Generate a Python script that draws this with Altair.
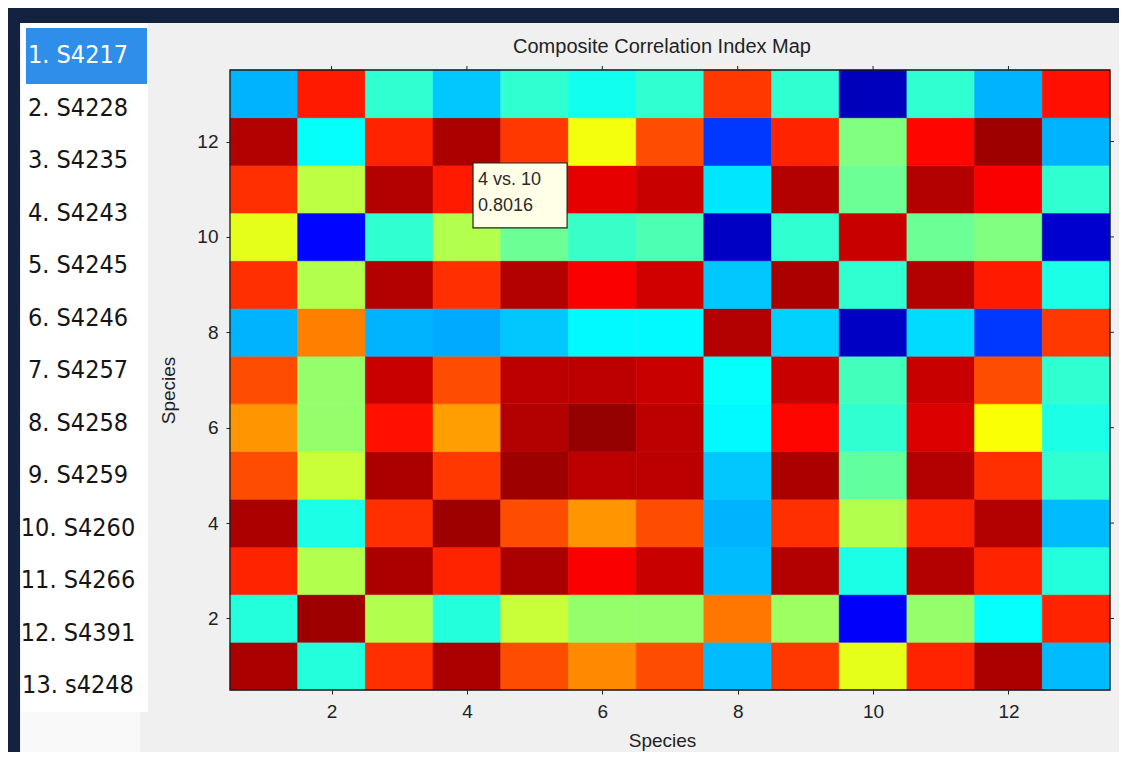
import altair as alt
import pandas as pd

# ---------------- data ----------------
species = ["S4217", "S4228", "S4235", "S4243", "S4245", "S4246", "S4257",
           "S4258", "S4259", "S4260", "S4266", "S4391", "s4248"]

# composite correlation index, row k = species k on the y axis, columns = species 1..13 on x
row_1 = [0.982, 0.740, 0.925, 0.982, 0.912, 0.886, 0.912, 0.696, 0.921, 0.824, 0.930, 0.982, 0.696]
row_2 = [0.740, 0.987, 0.802, 0.740, 0.811, 0.789, 0.789, 0.894, 0.793, 0.613, 0.789, 0.727, 0.930]
row_3 = [0.930, 0.802, 0.982, 0.930, 0.982, 0.947, 0.969, 0.696, 0.978, 0.736, 0.978, 0.930, 0.740]
row_4 = [0.982, 0.736, 0.925, 0.987, 0.912, 0.881, 0.912, 0.692, 0.925, 0.802, 0.930, 0.978, 0.696]
row_5 = [0.912, 0.811, 0.982, 0.921, 0.987, 0.974, 0.974, 0.701, 0.982, 0.767, 0.978, 0.925, 0.745]
row_6 = [0.881, 0.789, 0.938, 0.877, 0.978, 0.991, 0.974, 0.723, 0.943, 0.745, 0.960, 0.833, 0.736]
row_7 = [0.912, 0.789, 0.969, 0.912, 0.974, 0.974, 0.969, 0.727, 0.969, 0.754, 0.969, 0.912, 0.745]
row_8 = [0.692, 0.890, 0.692, 0.688, 0.701, 0.723, 0.723, 0.978, 0.705, 0.586, 0.710, 0.639, 0.921]
row_9 = [0.925, 0.802, 0.978, 0.925, 0.978, 0.947, 0.965, 0.701, 0.982, 0.745, 0.978, 0.934, 0.736]
row_10 = [0.824, 0.617, 0.745, 0.8016, 0.771, 0.749, 0.758, 0.586, 0.745, 0.969, 0.771, 0.780, 0.591]
row_11 = [0.925, 0.806, 0.978, 0.934, 0.978, 0.956, 0.969, 0.714, 0.978, 0.771, 0.978, 0.947, 0.745]
row_12 = [0.978, 0.727, 0.930, 0.982, 0.921, 0.830, 0.912, 0.639, 0.930, 0.780, 0.943, 0.987, 0.692]
row_13 = [0.692, 0.934, 0.745, 0.701, 0.745, 0.732, 0.745, 0.921, 0.745, 0.582, 0.745, 0.692, 0.938]
rows = [row_1, row_2, row_3, row_4, row_5, row_6, row_7, row_8, row_9, row_10, row_11, row_12, row_13]

tick_values = [2, 4, 6, 8, 10, 12]
selected_species = 1
tip_col, tip_row = 4, 10          # data tip "4 vs. 10"
chart_title = "Composite Correlation Index Map"

# ---------------- style ----------------
W, H = 880, 620
NAVY = "#13233F"
PANEL = "#F0F0F0"
INK = "#222222"
FONT = "Liberation Sans"
LIST_FONT = "Liberation Sans Narrow, DejaVu Sans Condensed, sans-serif"
jet = ["#00008F", "#0000FF", "#0080FF", "#00FFFF", "#80FF80",
       "#FFFF00", "#FF8000", "#FF0000", "#800000"]
cmin, cmax = 0.56, 1.0
stops = [cmin + (cmax - cmin) * k / (len(jet) - 1) for k in range(len(jet))]
jet_scale = alt.Scale(domain=stops, range=jet, interpolate="rgb")

cells = pd.DataFrame([
    {"col": c + 1, "row": r + 1, "value": rows[r][c]}
    for r in range(len(rows)) for c in range(len(rows[r]))
])
n = len(species)
xscale = alt.Scale(domain=[0.5, n + 0.5], nice=False, zero=False)
yscale = alt.Scale(domain=[0.5, n + 0.5], nice=False, zero=False)

one = alt.Data(values=[{}])

# background panels (decoration)
panel = alt.Chart(one).mark_rect(color=PANEL).encode(
    x=alt.value(-210), x2=alt.value(W + 20), y=alt.value(-47), y2=alt.value(H + 80))
list_bg = alt.Chart(one).mark_rect(color="#FFFFFF").encode(
    x=alt.value(-209), x2=alt.value(-82), y=alt.value(-47), y2=alt.value(H + 22))
list_bg2 = alt.Chart(one).mark_rect(color="#F9F9F9").encode(
    x=alt.value(-209), x2=alt.value(-90), y=alt.value(H + 22), y2=alt.value(H + 80))
highlight = alt.Chart(one).mark_rect(color="#2E8EEA").encode(
    x=alt.value(-204), x2=alt.value(-83), y=alt.value(-42), y2=alt.value(14))

title_df = pd.DataFrame({"title": [chart_title]})
title_text = alt.Chart(title_df).mark_text(
    font=FONT, fontSize=20, color=INK, align="center", baseline="middle"
).encode(x=alt.value(W / 2 - 8), y=alt.value(-23), text="title:N")

list_df = pd.DataFrame({
    "label": [f"{i + 1}. {s}" for i, s in enumerate(species)],
    "state": ["sel" if i + 1 == selected_species else "off" for i in range(n)],
})
list_text = alt.Chart(list_df).mark_text(
    font=LIST_FONT, fontSize=25, align="center", baseline="middle"
).encode(
    x=alt.value(-152),
    y=alt.Y("label:N", sort=None, axis=None,
            scale=alt.Scale(type="point", range=[-15, 615], padding=0)),
    text="label:N",
    color=alt.Color("state:N", legend=None,
                    scale=alt.Scale(domain=["sel", "off"], range=["#FFFFFF", "#151515"])),
)

axis_common = dict(values=tick_values, format="d", tickSize=4, tickColor=INK,
                   domain=False, grid=False, labelFont=FONT, labelFontSize=19,
                   labelColor=INK, labelPadding=8, titleFont=FONT,
                   titleFontSize=19, titleFontWeight="normal", titleColor=INK,
                   zindex=2)

heat = alt.Chart(cells).transform_calculate(
    x0="datum.col - 0.5", x1="datum.col + 0.5",
    y0="datum.row - 0.5", y1="datum.row + 0.5",
).mark_rect(strokeWidth=0.6).encode(
    x=alt.X("x0:Q", scale=xscale, title="Species",
            axis=alt.Axis(orient="bottom", titlePadding=10, titleX=W / 2 - 8, **axis_common)),
    x2="x1:Q",
    y=alt.Y("y0:Q", scale=yscale, title="Species",
            axis=alt.Axis(orient="left", titlePadding=18, titleY=320, **axis_common)),
    y2="y1:Q",
    color=alt.Color("value:Q", legend=None, scale=jet_scale),
    stroke=alt.Stroke("value:Q", legend=None, scale=jet_scale),
)

ticks_df = pd.DataFrame({"t": tick_values})
top_ticks = alt.Chart(ticks_df).mark_rule(color=INK).encode(
    x=alt.X("t:Q", scale=xscale, axis=None), y=alt.value(0), y2=alt.value(-4))
right_ticks = alt.Chart(ticks_df).mark_rule(color=INK).encode(
    y=alt.Y("t:Q", scale=yscale, axis=None), x=alt.value(W), x2=alt.value(W + 4))

frame = alt.Chart(one).mark_rect(filled=False, stroke="#1B1B1B", strokeWidth=1.3).encode(
    x=alt.value(0), x2=alt.value(W), y=alt.value(0), y2=alt.value(H))

tip_value = rows[tip_row - 1][tip_col - 1]
tip_df = pd.DataFrame([{
    "bx0": 4.09, "bx1": 5.48, "by0": 10.19, "by1": 11.55,
    "txt": f"{tip_col} vs. {tip_row}\n{tip_value:.4f}",
}])
tip_box = alt.Chart(tip_df).mark_rect(fill="#FFFFE8", stroke="#1E2A1E", strokeWidth=1.2).encode(
    x=alt.X("bx0:Q", scale=xscale, axis=None), x2="bx1:Q",
    y=alt.Y("by0:Q", scale=yscale, axis=None), y2="by1:Q")
tip_text = alt.Chart(tip_df).mark_text(
    font=FONT, fontSize=18, align="left", baseline="top", dx=5, dy=8,
    lineBreak="\n", lineHeight=26, color="#2A2A2A"
).encode(
    x=alt.X("bx0:Q", scale=xscale, axis=None),
    y=alt.Y("by1:Q", scale=yscale, axis=None),
    text="txt:N",
)

chart = alt.layer(
    panel, list_bg, list_bg2, highlight, list_text, title_text, heat, frame,
    top_ticks, right_ticks, tip_box, tip_text,
).resolve_scale(
    x="independent", y="independent", color="independent", stroke="independent"
).properties(
    width=W, height=H,
    autosize="none",
    padding={"left": 222, "top": 62, "right": 9, "bottom": 62},
).configure(
    background=NAVY,
).configure_view(
    stroke=None,
)

chart.save("out.html", embed_options={"renderer": "svg", "actions": False})
